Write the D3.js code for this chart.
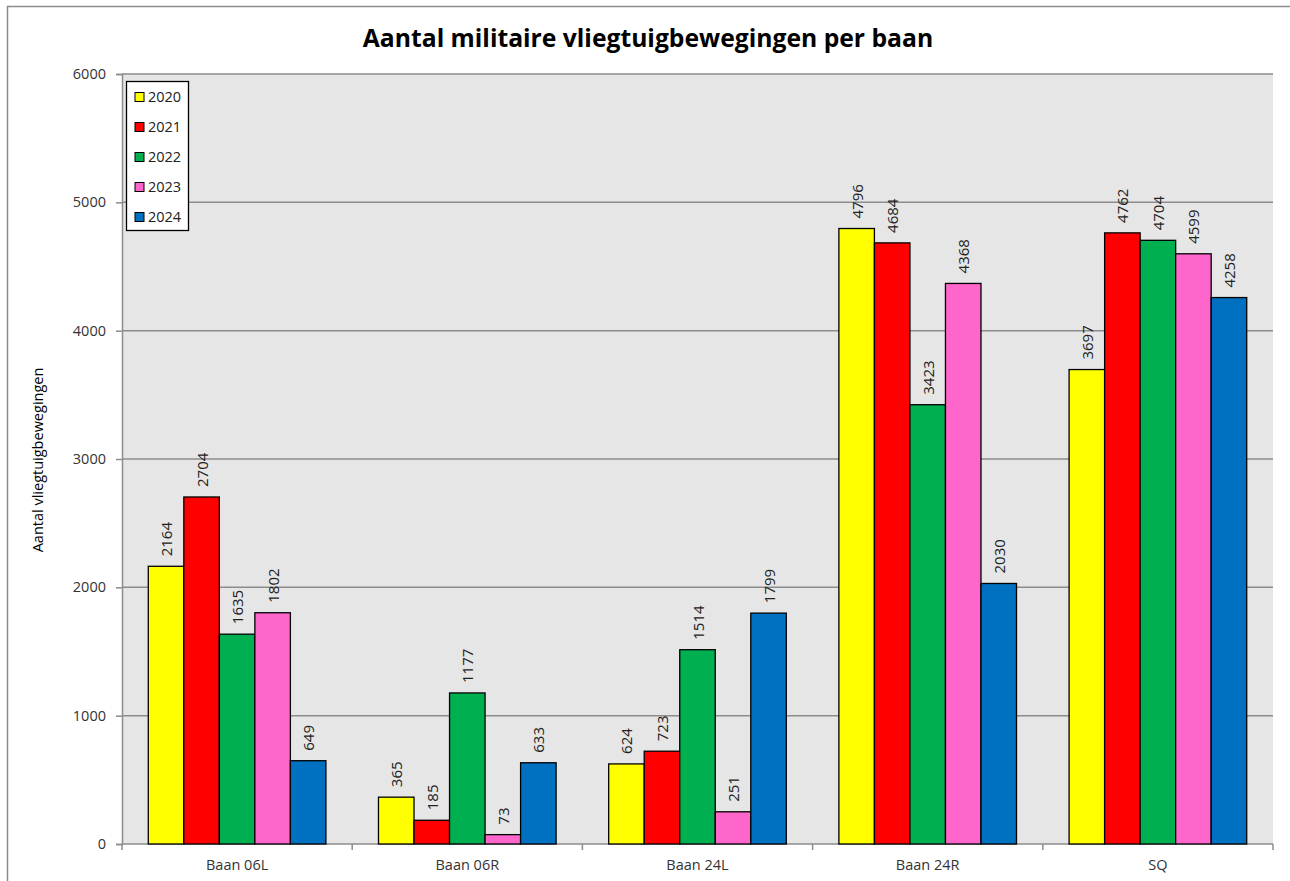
<!DOCTYPE html>
<html><head><meta charset="utf-8">
<script src="https://cdn.jsdelivr.net/npm/d3@7"></script>
<style>body{margin:0;background:#fff}svg{display:block}text{font-family:"Open Sans","Noto Sans",sans-serif}</style>
</head><body><svg id="c" width="1290" height="881"></svg>
<script>
const categories = ["Baan 06L","Baan 06R","Baan 24L","Baan 24R","SQ"];
const years = ["2020","2021","2022","2023","2024"];
const v2020 = [2164,365,624,4796,3697];
const v2021 = [2704,185,723,4684,4762];
const v2022 = [1635,1177,1514,3423,4704];
const v2023 = [1802,73,251,4368,4599];
const v2024 = [649,633,1799,2030,4258];
const colors = ["#FFFF00","#FF0000","#00B050","#FF66CC","#0070C0"];
const yTicks = [0,1000,2000,3000,4000,5000,6000];
const series = [v2020,v2021,v2022,v2023,v2024];

const svg = d3.select("#c");
svg.append("rect").attr("x",7.5).attr("y",6.5).attr("width",1300).attr("height",900).attr("fill","#fff").attr("stroke","#8c8c8c").attr("stroke-width",1.5);

const L=122,R=1273,T=74,B=844;
const x0 = d3.scaleBand().domain(categories).range([L,R]).paddingInner(0).paddingOuter(0);
const x1 = d3.scaleBand().domain(years).range([0,x0.bandwidth()]).paddingOuter(0.74).paddingInner(0);
const y = d3.scaleLinear().domain([0,6000]).range([B,T]);

svg.append("rect").attr("x",L).attr("y",T).attr("width",R-L).attr("height",B-T).attr("fill","#e6e6e6");
svg.append("g").selectAll("line").data(yTicks.slice(1)).join("line")
  .attr("x1",L).attr("x2",R).attr("y1",d=>y(d)).attr("y2",d=>y(d)).attr("stroke","#8c8c8c").attr("stroke-width",1.5);

// y axis
const ya = svg.append("g").attr("transform",`translate(${L},0)`).call(d3.axisLeft(y).tickValues(yTicks).tickSize(6).tickPadding(10).tickFormat(d3.format("d")));
ya.select(".domain").attr("stroke","#8c8c8c").attr("stroke-width",1.5);
ya.selectAll(".tick line").attr("stroke","#8c8c8c").attr("stroke-width",1.5);
ya.selectAll("text").attr("font-size",14.5).attr("fill","#333").attr("font-family","'Open Sans',sans-serif");

// x axis
const xa = svg.append("g").attr("transform",`translate(0,${B})`).call(d3.axisBottom(x0).tickSize(0).tickPadding(16));
xa.select(".domain").attr("stroke","#8c8c8c").attr("stroke-width",1.5).attr("d",`M${L},0H${R}`);
xa.selectAll("text").attr("font-size",14.5).attr("fill","#333").attr("font-family","'Open Sans',sans-serif");
svg.append("g").selectAll("line").data(d3.range(categories.length+1)).join("line")
  .attr("x1",i=>L+i*x0.bandwidth()).attr("x2",i=>L+i*x0.bandwidth()).attr("y1",B).attr("y2",B+6).attr("stroke","#8c8c8c").attr("stroke-width",1.5);

// bars
const g = svg.append("g");
categories.forEach((c,ci)=>{
  years.forEach((yr,si)=>{
    const v = series[si][ci];
    const bx = x0(c)+x1(yr);
    g.append("rect").attr("x",bx).attr("y",y(v)).attr("width",x1.bandwidth()).attr("height",B-y(v))
      .attr("fill",colors[si]).attr("stroke","#000").attr("stroke-width",1.3);
    g.append("text").attr("transform",`translate(${bx+x1.bandwidth()/2+6},${y(v)-10}) rotate(-90)`)
      .attr("font-size",15).attr("fill","#222").attr("text-anchor","start").text(v);
  });
});

// title
svg.append("text").attr("x",648).attr("y",47).attr("text-anchor","middle").attr("font-size",24.7).attr("font-weight","bold").attr("fill","#000").text("Aantal militaire vliegtuigbewegingen per baan");

// y title
svg.append("text").attr("transform","translate(43,460) rotate(-90)").attr("text-anchor","middle").attr("font-size",14.5).attr("fill","#000").text("Aantal vliegtuigbewegingen");

// legend
const lg = svg.append("g");
lg.append("rect").attr("x",126.5).attr("y",81.5).attr("width",62).attr("height",149).attr("fill","#fff").attr("stroke","#000").attr("stroke-width",1.3);
years.forEach((yr,i)=>{
  const cy = 97+i*30;
  lg.append("rect").attr("x",135).attr("y",cy-4.5).attr("width",9).attr("height",9).attr("fill",colors[i]).attr("stroke","#000").attr("stroke-width",1);
  lg.append("text").attr("x",148).attr("y",cy+5).attr("font-size",14.5).attr("fill","#222").text(yr);
});
</script></body></html>
